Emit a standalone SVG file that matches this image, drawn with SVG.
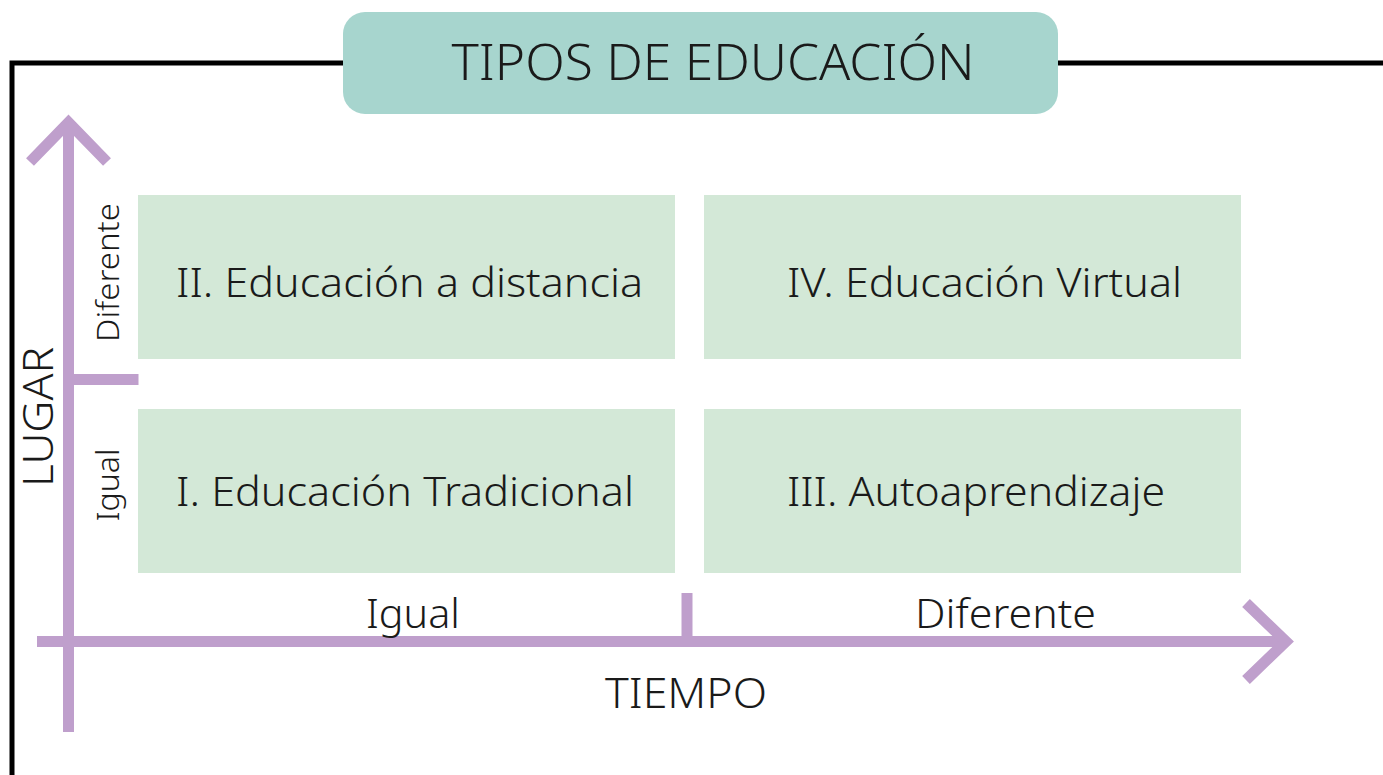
<svg xmlns="http://www.w3.org/2000/svg" width="1383" height="775" viewBox="0 0 1383 775">
<style>
.t{font-family:"Noto Sans","Open Sans","DejaVu Sans",sans-serif;font-weight:300;fill:#1a1a1a;}
.box{fill:#d3e8d7;}
.ax{fill:none;stroke:#bf9fcc;stroke-width:11;stroke-linejoin:miter;stroke-linecap:butt;}
</style>
<rect width="1383" height="775" fill="#ffffff"/>
<g id="frame">
<path d="M12,780 L12,63 L1390,63" fill="none" stroke="#000" stroke-width="5"/>
</g>
<g id="title">
<rect x="343" y="12" width="715" height="102" rx="22" ry="22" fill="#a7d5ce"/>
<text class="t" x="713" y="80" font-size="49" text-anchor="middle" textLength="523" lengthAdjust="spacingAndGlyphs">TIPOS DE EDUCACIÓN</text>
</g>
<g id="connectors">
<path class="ax" d="M68.5,732 L68.5,124"/>
<polyline class="ax" points="30,162 68.5,122.5 107,162"/>
<path class="ax" d="M37,641.5 L1285,641.5"/>
<polyline class="ax" points="1246,603 1286,641.5 1246,680"/>
<path class="ax" d="M68,379.5 L138.5,379.5"/>
<path class="ax" d="M687,593 L687,641"/>
</g>
<g id="node-II">
<rect class="box" x="138" y="195" width="537" height="164"/>
<text class="t" x="409.5" y="297" font-size="40" text-anchor="middle" textLength="467" lengthAdjust="spacingAndGlyphs">II. Educación a distancia</text>
</g>
<g id="node-IV">
<rect class="box" x="704" y="195" width="537" height="164"/>
<text class="t" x="984.5" y="297" font-size="40" text-anchor="middle" textLength="395" lengthAdjust="spacingAndGlyphs">IV. Educación Virtual</text>
</g>
<g id="node-I">
<rect class="box" x="138" y="409" width="537" height="164"/>
<text class="t" x="405" y="506" font-size="40" text-anchor="middle" textLength="458" lengthAdjust="spacingAndGlyphs">I. Educación Tradicional</text>
</g>
<g id="node-III">
<rect class="box" x="704" y="409" width="537" height="164"/>
<text class="t" x="976" y="506" font-size="40" text-anchor="middle" textLength="378" lengthAdjust="spacingAndGlyphs">III. Autoaprendizaje</text>
</g>
<g id="labels">
<text class="t" x="413" y="628" font-size="40" text-anchor="middle" textLength="94" lengthAdjust="spacingAndGlyphs">Igual</text>
<text class="t" x="1005.5" y="628" font-size="40" text-anchor="middle" textLength="181" lengthAdjust="spacingAndGlyphs">Diferente</text>
<text class="t" x="686" y="708" font-size="42" text-anchor="middle" textLength="162" lengthAdjust="spacingAndGlyphs">TIEMPO</text>
<text class="t" transform="translate(53,417) rotate(-90)" x="0" y="0" font-size="42" text-anchor="middle" textLength="140" lengthAdjust="spacingAndGlyphs">LUGAR</text>
<text class="t" transform="translate(119,272.5) rotate(-90)" x="0" y="0" font-size="32" text-anchor="middle" textLength="139" lengthAdjust="spacingAndGlyphs">Diferente</text>
<text class="t" transform="translate(119,485) rotate(-90)" x="0" y="0" font-size="32" text-anchor="middle" textLength="73" lengthAdjust="spacingAndGlyphs">Igual</text>
</g>
</svg>
